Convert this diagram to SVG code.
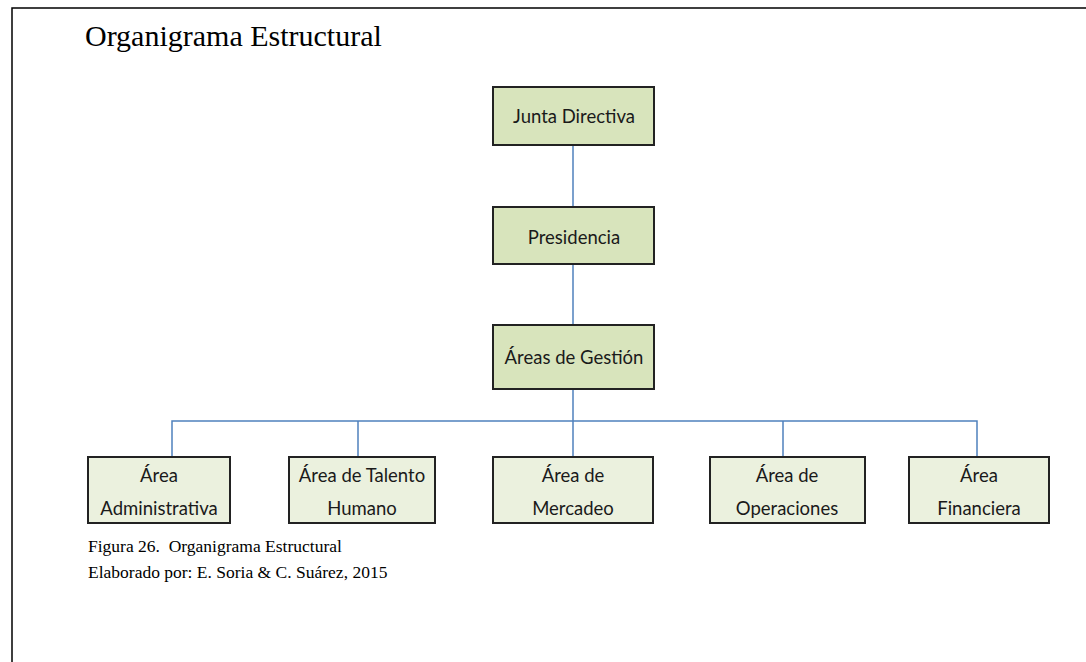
<svg xmlns="http://www.w3.org/2000/svg" width="1086" height="662" viewBox="0 0 1086 662">
<style>
.frame{fill:none;stroke:#000;stroke-width:1.5}
.top{fill:#d8e4bc;stroke:#222;stroke-width:2}
.bot{fill:#ebf1de;stroke:#222;stroke-width:2}
.conn{fill:none;stroke:#4f81bd;stroke-width:1.5}
.t{font-family:Lato,"Open Sans",sans-serif;font-size:18.5px;fill:#1a1a1a;text-anchor:middle}
.serif{font-family:"Liberation Serif",serif;fill:#000}
</style>
<rect class="frame" x="12" y="8" width="1090" height="670"/>
<text class="serif" x="85" y="46" font-size="30">Organigrama Estructural</text>
<g id="connectors">
<line class="conn" x1="573" y1="146" x2="573" y2="207"/>
<line class="conn" x1="573" y1="264" x2="573" y2="325"/>
<line class="conn" x1="573" y1="389" x2="573" y2="457"/>
<polyline class="conn" points="172,457 172,421 977,421 977,457"/>
<line class="conn" x1="358" y1="421" x2="358" y2="457"/>
<line class="conn" x1="783" y1="421" x2="783" y2="457"/>
</g>
<g id="junta"><rect class="top" x="493" y="87" width="161" height="58"/><text class="t" x="574" y="123">Junta Directiva</text></g>
<g id="presidencia"><rect class="top" x="493" y="207" width="161" height="57"/><text class="t" x="574" y="244">Presidencia</text></g>
<g id="gestion"><rect class="top" x="493" y="325" width="161" height="64"/><text class="t" x="574" y="364">Áreas de Gestión</text></g>
<g id="admin"><rect class="bot" x="88" y="457" width="142" height="66"/><text class="t" x="159" y="482">Área</text><text class="t" x="159" y="515">Administrativa</text></g>
<g id="talento"><rect class="bot" x="289" y="457" width="146" height="66"/><text class="t" x="362" y="482">Área de Talento</text><text class="t" x="362" y="515">Humano</text></g>
<g id="mercadeo"><rect class="bot" x="493" y="457" width="160" height="66"/><text class="t" x="573" y="482">Área de</text><text class="t" x="573" y="515">Mercadeo</text></g>
<g id="operaciones"><rect class="bot" x="710" y="457" width="155" height="66"/><text class="t" x="787" y="482">Área de</text><text class="t" x="787" y="515">Operaciones</text></g>
<g id="financiera"><rect class="bot" x="909" y="457" width="140" height="66"/><text class="t" x="979" y="482">Área</text><text class="t" x="979" y="515">Financiera</text></g>
<text class="serif" x="88" y="552" font-size="17.5" xml:space="preserve">Figura 26.  Organigrama Estructural</text>
<text class="serif" x="88" y="578" font-size="17.5">Elaborado por: E. Soria &amp; C. Suárez, 2015</text>
</svg>
